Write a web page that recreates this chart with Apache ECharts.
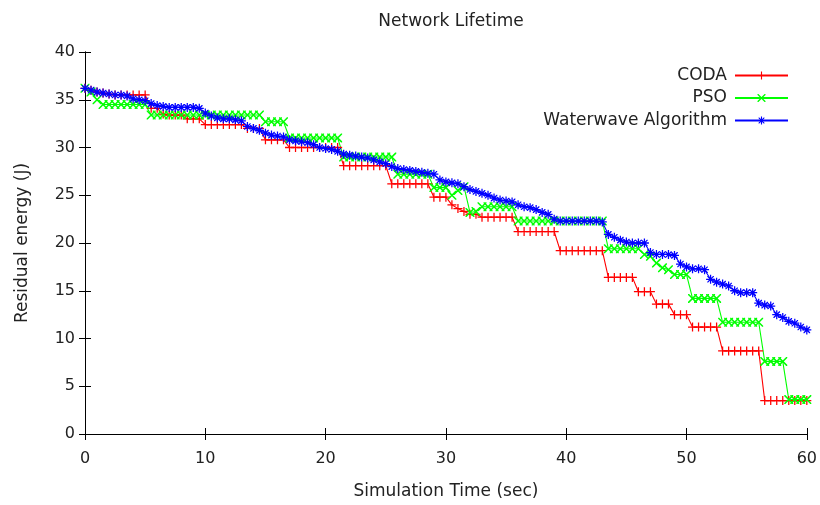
<!DOCTYPE html>
<html>
<head>
<meta charset="utf-8">
<title>Network Lifetime</title>
<script src="https://cdn.jsdelivr.net/npm/echarts@6/dist/echarts.min.js"></script>
<style>
	html, body { margin: 0; padding: 0; background: #fff; }
	#main { width: 820px; height: 505px; }
</style>
</head>
<body>
<div id="main"></div>
<script>
// simulation time (sec), one sample every 0.5 s
var times = [0, 0.5, 1, 1.5, 2, 2.5, 3, 3.5, 4, 4.5,
	5, 5.5, 6, 6.5, 7, 7.5, 8, 8.5, 9, 9.5,
	10, 10.5, 11, 11.5, 12, 12.5, 13, 13.5, 14, 14.5,
	15, 15.5, 16, 16.5, 17, 17.5, 18, 18.5, 19, 19.5,
	20, 20.5, 21, 21.5, 22, 22.5, 23, 23.5, 24, 24.5,
	25, 25.5, 26, 26.5, 27, 27.5, 28, 28.5, 29, 29.5,
	30, 30.5, 31, 31.5, 32, 32.5, 33, 33.5, 34, 34.5,
	35, 35.5, 36, 36.5, 37, 37.5, 38, 38.5, 39, 39.5,
	40, 40.5, 41, 41.5, 42, 42.5, 43, 43.5, 44, 44.5,
	45, 45.5, 46, 46.5, 47, 47.5, 48, 48.5, 49, 49.5,
	50, 50.5, 51, 51.5, 52, 52.5, 53, 53.5, 54, 54.5,
	55, 55.5, 56, 56.5, 57, 57.5, 58, 58.5, 59, 59.5,
	60];

// residual energy (J)
var coda = [36.2, 36.0, 35.8, 35.7, 35.6, 35.5, 35.5, 35.5, 35.5, 35.5,
	35.5, 34.1, 34.1, 33.5, 33.4, 33.4, 33.4, 33.0, 33.0, 33.0,
	32.4, 32.4, 32.4, 32.4, 32.4, 32.4, 32.4, 32.0, 32.0, 32.0,
	30.8, 30.8, 30.8, 30.8, 30.0, 30.0, 30.0, 30.0, 30.0, 30.0,
	30.0, 30.0, 30.0, 28.1, 28.1, 28.1, 28.1, 28.1, 28.1, 28.1,
	28.1, 26.2, 26.2, 26.2, 26.2, 26.2, 26.2, 26.2, 24.8, 24.8,
	24.8, 24.0, 23.6, 23.3, 23.0, 23.0, 22.7, 22.7, 22.7, 22.7,
	22.7, 22.7, 21.2, 21.2, 21.2, 21.2, 21.2, 21.2, 21.2, 19.2,
	19.2, 19.2, 19.2, 19.2, 19.2, 19.2, 19.2, 16.4, 16.4, 16.4,
	16.4, 16.4, 14.9, 14.9, 14.9, 13.6, 13.6, 13.6, 12.5, 12.5,
	12.5, 11.2, 11.2, 11.2, 11.2, 11.2, 8.7, 8.7, 8.7, 8.7,
	8.7, 8.7, 8.7, 3.5, 3.5, 3.5, 3.5, 3.5, 3.5, 3.5,
	3.5];

var pso = [36.2, 35.8, 35.0, 34.5, 34.5, 34.5, 34.5, 34.5, 34.5, 34.5,
	34.5, 33.4, 33.4, 33.4, 33.4, 33.4, 33.4, 33.4, 33.4, 33.4,
	33.4, 33.4, 33.4, 33.4, 33.4, 33.4, 33.4, 33.4, 33.4, 33.4,
	32.7, 32.7, 32.7, 32.7, 31.0, 31.0, 31.0, 31.0, 31.0, 31.0,
	31.0, 31.0, 31.0, 29.0, 29.0, 29.0, 29.0, 29.0, 29.0, 29.0,
	29.0, 29.0, 27.2, 27.2, 27.2, 27.2, 27.2, 27.2, 25.8, 25.8,
	25.8, 25.0, 25.5, 25.9, 23.2, 23.3, 23.8, 23.8, 23.8, 23.8,
	23.8, 23.8, 22.3, 22.3, 22.3, 22.3, 22.3, 22.3, 22.3, 22.3,
	22.3, 22.3, 22.3, 22.3, 22.3, 22.3, 22.3, 19.4, 19.4, 19.4,
	19.4, 19.4, 19.4, 18.8, 18.6, 17.9, 17.4, 17.2, 16.7, 16.7,
	16.7, 14.2, 14.2, 14.2, 14.2, 14.2, 11.7, 11.7, 11.7, 11.7,
	11.7, 11.7, 11.7, 7.6, 7.6, 7.6, 7.6, 3.6, 3.6, 3.6,
	3.6];

var waterwave = [36.2, 36.0, 35.8, 35.7, 35.6, 35.5, 35.5, 35.4, 35.1, 35.0,
	34.9, 34.6, 34.4, 34.3, 34.2, 34.2, 34.2, 34.2, 34.2, 34.1,
	33.6, 33.3, 33.1, 33.0, 33.0, 32.9, 32.8, 32.2, 32.0, 31.8,
	31.5, 31.3, 31.2, 31.1, 30.8, 30.7, 30.6, 30.5, 30.3, 30.0,
	29.9, 29.8, 29.6, 29.3, 29.2, 29.1, 29.0, 28.9, 28.7, 28.5,
	28.3, 28.0, 27.8, 27.7, 27.6, 27.5, 27.4, 27.3, 27.2, 26.6,
	26.4, 26.3, 26.2, 25.9, 25.6, 25.4, 25.2, 25.0, 24.7, 24.5,
	24.4, 24.3, 24.0, 23.8, 23.7, 23.5, 23.2, 23.0, 22.5, 22.3,
	22.3, 22.3, 22.3, 22.3, 22.3, 22.3, 22.2, 20.9, 20.6, 20.3,
	20.1, 20.0, 20.0, 20.0, 19.0, 18.8, 18.8, 18.8, 18.7, 17.8,
	17.5, 17.3, 17.3, 17.2, 16.2, 15.9, 15.7, 15.5, 15.0, 14.8,
	14.8, 14.8, 13.7, 13.5, 13.4, 12.5, 12.2, 11.8, 11.6, 11.2,
	10.9];

var seriesNames = ['CODA', 'PSO', 'Waterwave Algorithm'];
var seriesColors = ['#ff0000', '#00ff00', '#0000ff'];

// gnuplot point types: + , x , *
var plusPath = 'path://M0,4.3H10V5.7H0Z M4.3,0H5.7V10H4.3Z';
var crossPath = 'path://M0,0L1.2,0L10,8.8L10,10L8.8,10L0,1.2Z M10,0L10,1.2L1.2,10L0,10L0,8.8L8.8,0Z';
var starPath = 'path://M0,4.3H10V5.7H0Z M4.3,0H5.7V10H4.3Z M1.3,1.3L2.3,1.3L8.7,7.7L8.7,8.7L7.7,8.7L1.3,2.3Z M8.7,1.3L8.7,2.3L2.3,8.7L1.3,8.7L1.3,7.7L7.7,1.3Z';
var symbols = [plusPath, crossPath, starPath];

function pairs(vals) {
	var out = [];
	for (var i = 0; i < times.length; i++) {
		out.push([times[i], vals[i]]);
	}
	return out;
}

var allData = [coda, pso, waterwave];
var series = [];
allData.forEach(function(vals, i) {
	series.push({
		name: seriesNames[i],
		type: 'line',
		data: pairs(vals),
		symbol: symbols[i],
		symbolSize: 9,
		showSymbol: true,
		showAllSymbol: true,
		lineStyle: { color: seriesColors[i], width: 1.1 },
		itemStyle: { color: seriesColors[i] },
		emphasis: { disabled: true }
	});
});

var textColor = '#222';
var frame = { show: true, lineStyle: { color: '#000', width: 1 } };
var ticks = { show: true, inside: true, length: 6, lineStyle: { color: '#000' } };

var myChart = echarts.init(document.getElementById('main'));
var option = {
	animation: false,
	textStyle: { fontFamily: 'DejaVu Sans' },
	title: {
		text: 'Network Lifetime',
		left: 446,
		top: 8,
		textAlign: 'center',
		textStyle: { fontSize: 17, fontWeight: 'normal', color: textColor, fontFamily: 'DejaVu Sans' }
	},
	legend: {
		data: seriesNames,
		orient: 'vertical',
		right: 26,
		top: 62,
		align: 'right',
		itemWidth: 53,
		itemHeight: 10,
		itemGap: 5.5,
		textStyle: { fontSize: 17, color: textColor, lineHeight: 17, padding: [0, 3, 0, 0] }
	},
	grid: { left: 85, right: 13, top: 52, bottom: 70 },
	xAxis: [{
		type: 'value',
		min: 0,
		max: 60,
		interval: 10,
		name: 'Simulation Time (sec)',
		nameLocation: 'middle',
		nameGap: 49,
		nameTextStyle: { fontSize: 17, color: textColor },
		axisLine: frame,
		axisTick: ticks,
		axisLabel: { fontSize: 16, color: textColor, margin: 17 },
		splitLine: { show: false }
	}, {
		type: 'value',
		position: 'top',
		min: 0,
		max: 60,
		interval: 10,
		axisLine: frame,
		axisTick: ticks,
		axisLabel: { show: false },
		splitLine: { show: false }
	}],
	yAxis: [{
		type: 'value',
		min: 0,
		max: 40,
		interval: 5,
		name: 'Residual energy (J)',
		nameLocation: 'middle',
		nameGap: 54,
		nameTextStyle: { fontSize: 17, color: textColor },
		axisLine: frame,
		axisTick: ticks,
		axisLabel: { fontSize: 16, color: textColor, margin: 10 },
		splitLine: { show: false }
	}, {
		type: 'value',
		position: 'right',
		min: 0,
		max: 40,
		interval: 5,
		axisLine: frame,
		axisTick: ticks,
		axisLabel: { show: false },
		splitLine: { show: false }
	}],
	series: series
};
myChart.setOption(option);
</script>
</body>
</html>
